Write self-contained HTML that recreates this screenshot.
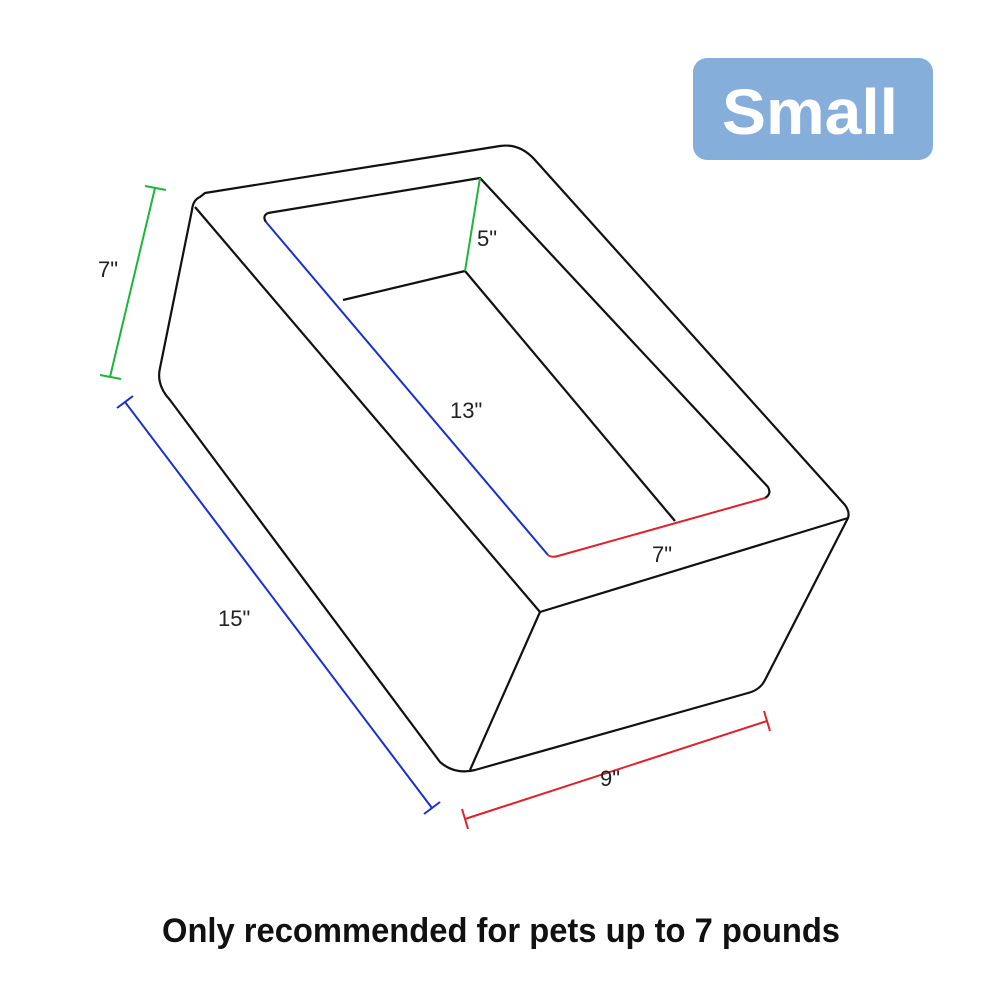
<!DOCTYPE html>
<html>
<head>
<meta charset="utf-8">
<style>
  html,body{margin:0;padding:0;background:#fff;}
  svg{display:block;}
  .lbl{font-family:"Liberation Sans",sans-serif;font-size:22px;fill:#222;}
</style>
</head>
<body>
<svg width="1000" height="1000" viewBox="0 0 1000 1000">
  <rect x="693" y="58" width="240" height="102" rx="14" fill="#86aedb"/>
  <text x="722" y="134" textLength="176" lengthAdjust="spacingAndGlyphs" font-family="Liberation Sans, sans-serif" font-weight="bold" font-size="64" fill="#fff">Small</text>

  <g fill="none" stroke="#111" stroke-width="2.2" stroke-linejoin="round">
    <path d="M200,197 Q193,200 192,210 L160,368 Q156,385 170,400 L440,762 Q455,775 475,770 L748,693 Q760,690 765,680 L848,518 Q850,512 845,505 L535,160 Q520,143 500,146 L205,193 Z"/>
    <path d="M195,207 L540,612"/>
    <path d="M540,612 L848,518"/>
    <path d="M540,612 L470,770"/>
    <path d="M268,213 L480,178 L768,487 Q772,494 765,498"/>
    <path d="M268,213 Q262,216 266,222"/>
    <path d="M343,300 L465,271"/>
    <path d="M465,271 L675,521"/>
  </g>

  <path d="M266,222 L548,555" stroke="#1a2fd0" stroke-width="2" fill="none"/>
  <path d="M548,555 Q552,558 558,556 L765,498" stroke="#e0202a" stroke-width="2" fill="none"/>
  <path d="M480,178 L465,271" stroke="#1db53a" stroke-width="2" fill="none"/>

  <g stroke="#1db53a" stroke-width="2">
    <line x1="155" y1="188" x2="110" y2="377"/>
    <line x1="145" y1="186" x2="166" y2="190"/>
    <line x1="100" y1="375" x2="121" y2="379"/>
  </g>
  <g stroke="#1a2fd0" stroke-width="2">
    <line x1="125" y1="402" x2="432" y2="808"/>
    <line x1="117" y1="408" x2="133" y2="396"/>
    <line x1="424" y1="814" x2="440" y2="802"/>
  </g>
  <g stroke="#e0202a" stroke-width="2">
    <line x1="465" y1="819" x2="767" y2="721"/>
    <line x1="462" y1="809" x2="468" y2="829"/>
    <line x1="764" y1="711" x2="770" y2="731"/>
  </g>

  <text class="lbl" x="98" y="277">7"</text>
  <text class="lbl" x="477" y="246">5"</text>
  <text class="lbl" x="450" y="418">13"</text>
  <text class="lbl" x="652" y="562">7"</text>
  <text class="lbl" x="218" y="626">15"</text>
  <text class="lbl" x="600" y="786">9"</text>

  <text x="162" y="942" textLength="678" lengthAdjust="spacingAndGlyphs" font-family="Liberation Sans, sans-serif" font-weight="bold" font-size="34" fill="#111">Only recommended for pets up to 7 pounds</text>
</svg>
</body>
</html>
